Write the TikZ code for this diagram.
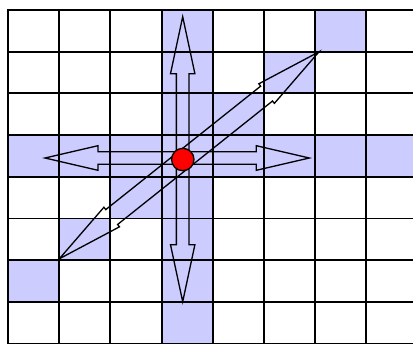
\documentclass[tikz,border=0pt]{standalone}
\usetikzlibrary{calc}

\definecolor{cellblue}{RGB}{204,204,255}

% open double-headed arrow between two tips:
% #1,#2 first tip, #3,#4 second tip, #5 head length, #6 shaft half width, #7 head half width
\newcommand{\dblarrow}[7]{%
  \pgfmathsetmacro{\arrang}{atan2(#4-#2,#3-#1)}%
  \pgfmathsetmacro{\arrlen}{veclen(#3-#1,#4-#2)}%
  \pgfmathsetmacro{\arrend}{\arrlen-#5}%
  \begin{scope}[shift={(#1,#2)}, rotate=\arrang]
    \draw[arrowline] (0,0) -- (#5,#7) -- (#5,#6) -- (\arrend,#6) -- (\arrend,#7)
      -- (\arrlen,0) -- (\arrend,-#7) -- (\arrend,-#6) -- (#5,-#6) -- (#5,-#7) -- cycle;
  \end{scope}}

\begin{document}
\begin{tikzpicture}[
    x=0.02cm, y=0.02cm,
    gridline/.style={
        line width=1.05pt,
        line cap=rect
    },
    arrowline/.style={
        line width=0.75pt,
        line join=miter
    },
    dot/.style={
        circle,
        draw,
        fill=red,
        line width=0.75pt,
        inner sep=0pt,
        minimum size=0.448cm
    }
]

\def\cw{51.2}
\def\ch{41.7}
\def\gx{8}
\def\gy{333}

\useasboundingbox (0,0) rectangle (413,343);
\clip (0,0) rectangle (413,343);

%% ===== SHADED CELLS =====
\fill[cellblue] (\gx+3*\cw,\gy) rectangle ++(\cw,-8*\ch);
\fill[cellblue] (\gx,\gy-3*\ch) rectangle ++(8*\cw,-\ch);
\foreach \c/\r in {6/0,5/1,4/2,2/4,1/5,0/6} {
  \fill[cellblue] (\gx+\c*\cw,\gy-\r*\ch) rectangle ++(\cw,-\ch);
}

%% ===== GRID =====
\foreach \k in {0,...,8} {
  \draw[gridline] (\gx+\k*\cw,\gy) -- ++(0,-8*\ch);
  \draw[gridline] (\gx,\gy-\k*\ch) -- ++(8*\cw,0);
}

%% ===== ARROWS =====
\dblarrow{182.7}{41.3}{182.7}{326.3}{57}{6.3}{12.2}
\dblarrow{45}{185}{309.3}{185}{53}{6.3}{12.3}
\dblarrow{59.3}{84.2}{319}{291.2}{67}{9.5}{12.5}

\node[dot] (centre) at (182.8,183.5) {};

\end{tikzpicture}
\end{document}
